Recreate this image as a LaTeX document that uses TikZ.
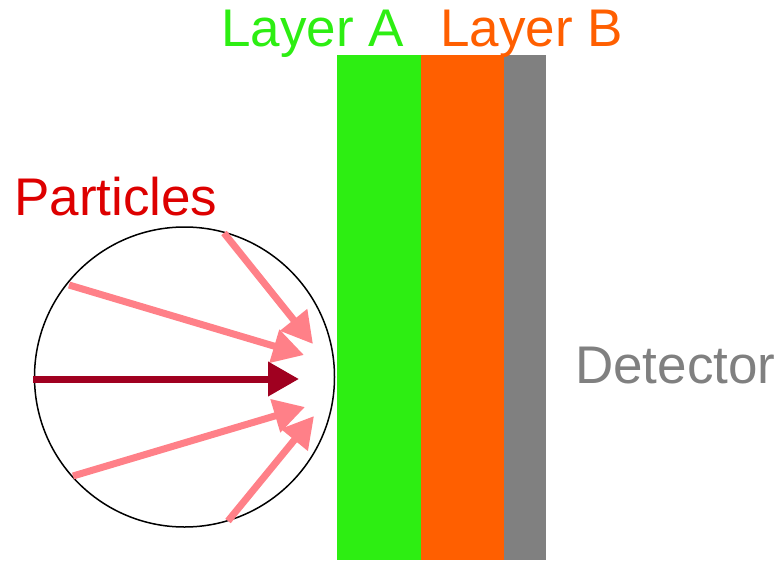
\documentclass[tikz,border=0pt]{standalone}
\usepackage{fontspec}
\setmainfont{Liberation Sans}
\usepackage{tikz}
\usetikzlibrary{arrows.meta}

\definecolor{layergreen}{RGB}{45,238,18}
\definecolor{layerorange}{RGB}{255,95,0}
\definecolor{detgray}{RGB}{128,128,128}
\definecolor{partred}{RGB}{221,0,0}
\definecolor{beamdark}{RGB}{160,0,32}
\definecolor{beampink}{RGB}{255,128,136}

\begin{document}
\begin{tikzpicture}[x=1pt,y=-1pt]

\tikzset{layer/.style = {anchor=north west,inner sep=0,minimum height=505pt}}
\tikzset{label/.style = {anchor=base west,inner sep=0,font=\fontsize{53}{62}\selectfont}}
\tikzset{ray/.style = {line width=7pt,-{Triangle[length=31pt,width=33pt]}}}

\useasboundingbox (0,0) rectangle (779,560);

\node[layer,fill=layergreen,minimum width=84pt] (la) at (337,55) {};
\node[layer,fill=layerorange,minimum width=83pt] (lb) at (421,55) {};
\node[layer,fill=detgray,minimum width=42pt] (det) at (504,55) {};

\node[label,text=layergreen] (ta) at (221,46) {Layer A};
\node[label,text=layerorange] (tb) at (440,46) {Layer B};
\node[label,text=detgray] (td) at (575,383) {Detector};
\node[label,text=partred] (tp) at (14,215) {Particles};

\node[draw,circle,line width=1.5pt,minimum size=300pt,inner sep=0] (beam) at (184.5,377) {};

\coordinate (s0) at (33,379);
\coordinate (e0) at (299,379);
\coordinate (s1) at (224,233);
\coordinate (e1) at (313,344);
\coordinate (s2) at (69,285);
\coordinate (e2) at (304,355);
\coordinate (s3) at (73,476);
\coordinate (e3) at (305,407);
\coordinate (s4) at (228,521);
\coordinate (e4) at (314,416);

\draw[ray,beampink] (s1) -- (e1);
\draw[ray,beampink] (s2) -- (e2);
\draw[ray,beampink] (s3) -- (e3);
\draw[ray,beampink] (s4) -- (e4);
\draw[ray,beamdark] (s0) -- (e0);

\end{tikzpicture}
\end{document}
